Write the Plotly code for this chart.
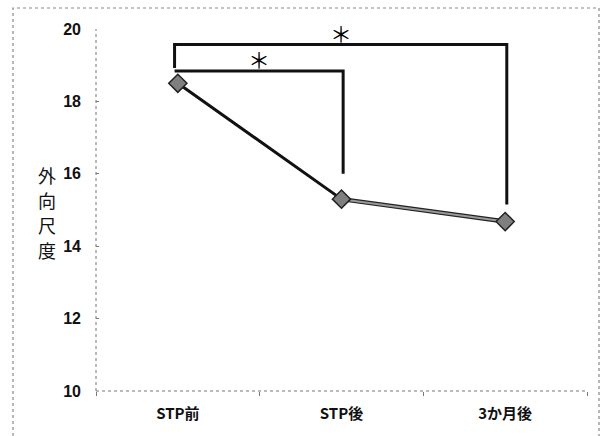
import plotly.graph_objects as go

categories = ["STP前", "STP後", "3か月後"]
values = [18.5, 15.3, 14.68]
y_ticks = [10, 12, 14, 16, 18, 20]
y_title = "外向尺度"

# significance brackets: (start index, end index, top y, left-drop y, right-drop y, label)
brackets = [
    (0, 2, 19.57, 18.92, 15.15, "＊"),
    (0, 1, 18.84, 18.84, 16.0, "＊"),
]

x = list(range(len(categories)))
fig = go.Figure()

# first segment: dark line
fig.add_trace(go.Scatter(x=x[0:2], y=values[0:2], mode="lines",
                         line=dict(color="#111111", width=3), hoverinfo="skip"))
# second segment: gray line with dark edge
fig.add_trace(go.Scatter(x=x[1:3], y=values[1:3], mode="lines",
                         line=dict(color="#222222", width=4.5), hoverinfo="skip"))
fig.add_trace(go.Scatter(x=x[1:3], y=values[1:3], mode="lines",
                         line=dict(color="#9a9a9a", width=2), hoverinfo="skip"))
# markers
fig.add_trace(go.Scatter(x=x, y=values, mode="markers",
                         marker=dict(symbol="diamond", size=14, color="#7f7f7f",
                                     line=dict(color="#222222", width=1.5))))

shapes = []
annotations = []
for (i0, i1, ytop, yl, yr, lab) in brackets:
    xl = x[i0] - 0.02
    xr = x[i1] + 0.01
    shapes.append(dict(type="path", xref="x", yref="y",
                       path=f"M {xl},{yl} L {xl},{ytop} L {xr},{ytop} L {xr},{yr}",
                       line=dict(color="#111111", width=3)))
    annotations.append(dict(x=(xl + xr) / 2, y=ytop, xref="x", yref="y",
                            text=lab, showarrow=False, yanchor="bottom", yshift=-5,
                            font=dict(size=22, color="#000000",
                                      family="Noto Sans CJK JP")))

# dotted axes
shapes.append(dict(type="line", xref="paper", yref="paper", x0=0, x1=0, y0=0, y1=1,
                   line=dict(color="#777777", width=1, dash="dot")))
shapes.append(dict(type="line", xref="paper", yref="paper", x0=0, x1=1, y0=0, y1=0,
                   line=dict(color="#777777", width=1, dash="dot")))
# outer frame
shapes.append(dict(type="rect", xref="paper", yref="paper",
                   x0=-83 / 491, x1=503 / 491, y0=-60 / 362, y1=383 / 362,
                   line=dict(color="#888888", width=1.2, dash="dot")))

# vertical y-axis title
for k, ch in enumerate(y_title):
    annotations.append(dict(x=-49 / 491, y=(362 - (175 - 29) - 25 * k) / 362,
                            xref="paper", yref="paper", text=ch, showarrow=False,
                            xanchor="center", yanchor="middle",
                            font=dict(size=18, color="#111111",
                                      family="Noto Sans CJK JP")))

fig.update_layout(
    width=601, height=436,
    margin=dict(l=96, r=14, t=29, b=45),
    paper_bgcolor="white", plot_bgcolor="white",
    showlegend=False,
    shapes=shapes, annotations=annotations,
    xaxis=dict(range=[-0.5, 2.5], tickvals=x, ticktext=[f"<b>{c}</b>" for c in categories],
               ticks="", showline=False, showgrid=False, zeroline=False,
               tickfont=dict(size=15, color="#111111",
                             family="Liberation Sans Narrow, Noto Sans CJK JP"),
               ticklabelstandoff=12,
               minor=dict(tick0=0.5, dtick=1, ticks="outside", ticklen=4,
                          tickcolor="#777777", showgrid=False)),
    yaxis=dict(range=[10, 20], tickvals=y_ticks, ticktext=[f"<b>{v}</b>" for v in y_ticks],
               ticks="inside", ticklen=3, tickcolor="#777777",
               showline=False, showgrid=False, zeroline=False,
               tickfont=dict(size=16, color="#111111",
                             family="Liberation Sans Narrow, Liberation Sans"),
               ticklabelstandoff=14),
)

fig.write_html("out.html", config={"displayModeBar": False},
               post_script="document.body.style.margin='0';document.body.style.overflow='hidden';")
